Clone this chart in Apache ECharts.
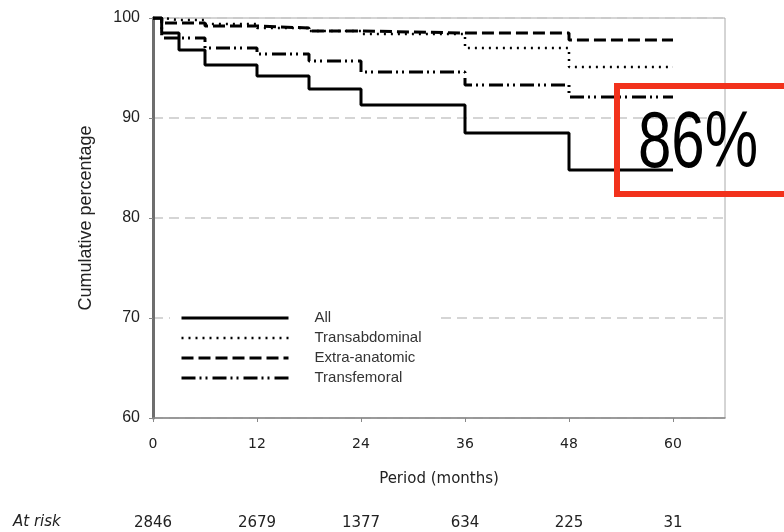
<!DOCTYPE html>
<html>
<head>
<meta charset="utf-8">
<script src="https://cdn.jsdelivr.net/npm/echarts@6/dist/echarts.min.js"></script>
<style>
  html,body{margin:0;padding:0;background:#fff;}
  #chart{width:784px;height:532px;}
</style>
</head>
<body>
<div id="chart"></div>
<script>
// months where any curve steps down
var months = [0, 1, 3, 6, 12, 18, 24, 36, 48, 60];

// cumulative percentage per group
var allValues = [100, 98.5, 96.8, 95.3, 94.2, 92.9, 91.3, 88.5, 84.8, 84.8];
var transabdominal = [100, 99.8, 99.8, 99.4, 99.0, 98.7, 98.4, 97.0, 95.1, 95.1];
var extraAnatomic = [100, 99.5, 99.5, 99.2, 99.0, 98.7, 98.5, 98.5, 97.8, 97.8];
var transfemoral = [100, 98.0, 98.0, 97.0, 96.4, 95.7, 94.6, 93.3, 92.1, 92.1];

// numbers at risk under the x ticks
var riskTicks = [0, 12, 24, 36, 48, 60];
var atRisk = ['2846', '2679', '1377', '634', '225', '31'];

var yTicks = [60, 70, 80, 90, 100];

(function(echarts){
  function pairs(vals){
    return months.map(function(m, i){ return [m, vals[i]]; });
  }

  function stepLine(name, vals, width, dash){
    return {
      name: name,
      type: 'line',
      step: 'end',
      symbol: 'none',
      silent: true,
      color: '#000',
      data: pairs(vals),
      itemStyle: { color: '#000' },
      lineStyle: { color: '#000', width: width, type: dash }
    };
  }

  var myChart = echarts.init(document.getElementById('chart'));

  var option = {
    animation: false,
    backgroundColor: '#fff',
    grid: {
      left: 153, right: 59, top: 18, bottom: 114,
      show: true, borderColor: '#aaa', borderWidth: 1
    },
    legend: {
      orient: 'vertical',
      left: 170,
      top: 304,
      padding: [6, 16, 6, 10],
      backgroundColor: '#fff',
      itemWidth: 107,
      itemHeight: 16,
      itemGap: 4,
      selectedMode: false,
      itemStyle: { opacity: 0 },
      lineStyle: { width: 'inherit' },
      textStyle: {
        fontFamily: 'Liberation Sans', fontSize: 15, color: '#333',
        lineHeight: 16, padding: [0, 0, 0, 21]
      },
      data: ['All', 'Transabdominal', 'Extra-anatomic', 'Transfemoral']
    },
    xAxis: [
      {
        type: 'value',
        min: 0, max: 66, interval: 12,
        name: 'Period (months)',
        nameLocation: 'middle',
        nameGap: 54,
        nameTextStyle: { fontFamily: 'DejaVu Sans', fontSize: 15, color: '#222' },
        axisLine: { lineStyle: { color: '#888', width: 1.5 } },
        axisTick: { length: 4, lineStyle: { color: '#888' } },
        axisLabel: {
          showMaxLabel: false, margin: 19,
          fontFamily: 'DejaVu Sans', fontSize: 14, color: '#222'
        },
        splitLine: { show: false }
      },
      {
        // at-risk row
        type: 'value',
        position: 'bottom',
        offset: 98,
        min: 0, max: 66, interval: 12,
        axisLine: { show: false },
        axisTick: { show: false },
        axisLabel: {
          showMaxLabel: false, margin: 0,
          fontFamily: 'DejaVu Sans', fontSize: 15, color: '#222',
          formatter: function(v){
            var i = riskTicks.indexOf(v);
            return i >= 0 ? atRisk[i] : '';
          }
        },
        splitLine: { show: false }
      }
    ],
    yAxis: [
      {
        type: 'value',
        min: yTicks[0], max: yTicks[yTicks.length - 1], interval: 10,
        name: 'Cumulative percentage',
        nameLocation: 'middle',
        nameGap: 58,
        nameTextStyle: { fontFamily: 'Liberation Sans', fontSize: 18, color: '#222' },
        axisLine: { show: true, lineStyle: { color: '#888', width: 1.5 } },
        axisTick: { show: true, length: 4, lineStyle: { color: '#888' } },
        axisLabel: { margin: 13, fontFamily: 'Liberation Sans', fontSize: 16, color: '#222' },
        splitLine: {
          show: true,
          lineStyle: { color: '#c8c8c8', width: 1.5, type: [10, 6] }
        }
      },
      {
        // heavy frame on the right
        type: 'value',
        position: 'right',
        min: yTicks[0], max: yTicks[yTicks.length - 1],
        axisLine: { show: true, lineStyle: { color: '#6e6e6e', width: 3 } },
        axisTick: { show: false },
        axisLabel: { show: false },
        splitLine: { show: false }
      }
    ],
    graphic: [
      {
        type: 'text',
        left: 13,
        top: 515,
        style: {
          text: 'At risk',
          fontFamily: 'DejaVu Sans', fontStyle: 'italic',
          fontSize: 15, fill: '#222'
        }
      },
      {
        type: 'rect',
        z: 10,
        shape: { x: 617, y: 86, width: 200, height: 108 },
        style: { fill: 'none', stroke: '#f2321c', lineWidth: 6 }
      },
      {
        type: 'text',
        z: 11,
        x: 698,
        y: 145,
        scaleX: 0.75,
        style: {
          text: '86%',
          fontFamily: 'Liberation Sans',
          fontSize: 80, fill: '#000',
          align: 'center', verticalAlign: 'middle'
        }
      }
    ],
    series: [
      stepLine('Transabdominal', transabdominal, 2.5, [2, 5]),
      stepLine('Extra-anatomic', extraAnatomic, 3, [12, 5]),
      stepLine('Transfemoral', transfemoral, 3, [14, 4, 2, 4, 2, 5]),
      stepLine('All', allValues, 3, 'solid')
    ]
  };

  myChart.setOption(option);
})(echarts);
</script>
</body>
</html>
